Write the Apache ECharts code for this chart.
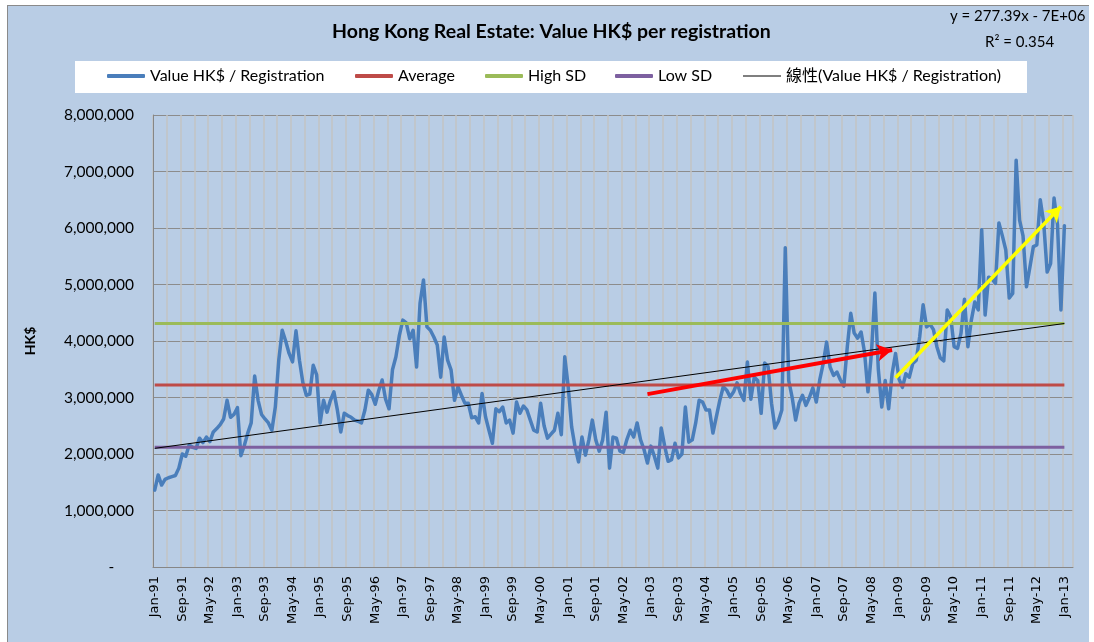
<!DOCTYPE html>
<html lang="en">
<head>
<meta charset="UTF-8">
<title>Hong Kong Real Estate</title>
<script src="https://cdn.jsdelivr.net/npm/echarts@6/dist/echarts.min.js"></script>
<style>
    body{margin:0;background:#fff;overflow:hidden;}
    #frame{position:absolute;left:7px;top:5px;width:1081px;height:637px;background:#b9cde5;border-top:1px solid #8a8a8a;border-left:1px solid #8a8a8a;}
    #main{position:absolute;left:0;top:0;width:1088px;height:642px;}
</style>
</head>
<body>
<div id="frame"></div>
<div id="main"></div>
<script type="text/javascript">
    // month labels Jan-91 .. Mar-13 (last two months have no data)
    var monthNames = ['Jan','Feb','Mar','Apr','May','Jun','Jul','Aug','Sep','Oct','Nov','Dec'];
    var categories = [];
    for (var y = 1991; y <= 2013; y++) {
        for (var m = 0; m < 12; m++) {
            if (y === 2013 && m > 2) break;
            categories.push(monthNames[m] + '-' + String(y).slice(2));
        }
    }

    // value HK$ per registration, in HK$ millions, one row per year
    var valuePerReg = [
        1.36,1.63,1.45,1.55,1.58,1.60,1.62,1.75,2.00,1.96,2.16,2.12,
        2.10,2.28,2.20,2.30,2.22,2.39,2.45,2.52,2.62,2.95,2.65,2.70,
        2.82,1.97,2.15,2.37,2.55,3.38,2.95,2.70,2.62,2.55,2.42,2.83,
        3.66,4.19,4.00,3.78,3.63,4.18,3.66,3.26,3.04,3.06,3.57,3.40,
        2.55,2.95,2.74,2.95,3.10,2.78,2.39,2.72,2.68,2.65,2.60,2.58,
        2.55,2.78,3.13,3.05,2.88,3.12,3.31,2.97,2.80,3.49,3.72,4.10,
        4.37,4.32,4.04,4.19,3.54,4.67,5.08,4.25,4.19,4.07,3.93,3.36,
        4.07,3.66,3.49,2.95,3.19,3.04,2.90,2.90,2.64,2.66,2.55,3.07,
        2.66,2.42,2.19,2.80,2.75,2.83,2.55,2.60,2.37,2.92,2.72,2.85,
        2.78,2.60,2.42,2.39,2.90,2.50,2.28,2.35,2.42,2.72,2.34,3.72,
        3.19,2.48,2.12,1.86,2.30,1.98,2.25,2.60,2.25,2.05,2.25,2.74,
        1.75,2.30,2.28,2.05,2.03,2.25,2.42,2.30,2.55,2.25,2.08,1.84,
        2.14,1.96,1.75,2.46,2.14,1.87,1.90,2.19,1.93,2.00,2.83,2.21,
        2.25,2.55,2.95,2.92,2.78,2.78,2.37,2.66,2.95,3.19,3.13,3.01,
        3.10,3.26,3.07,2.95,3.63,2.97,3.36,3.30,2.72,3.61,3.55,2.90,
        2.46,2.58,2.78,5.65,3.30,3.00,2.60,2.90,3.04,2.86,3.00,3.17,
        2.92,3.31,3.60,3.98,3.54,3.39,3.45,3.31,3.20,3.90,4.49,4.14,
        4.05,4.16,3.80,3.10,3.78,4.85,3.50,2.83,3.30,2.80,3.42,3.78,
        3.33,3.18,3.42,3.36,3.60,3.66,4.07,4.64,4.25,4.30,4.20,3.90,
        3.70,3.65,4.55,4.43,3.90,3.87,4.14,4.74,3.90,4.37,4.69,4.55,
        5.97,4.46,5.13,5.10,5.02,6.09,5.86,5.61,4.76,4.84,7.20,6.14,
        5.86,4.96,5.31,5.67,5.70,6.50,6.09,5.22,5.37,6.53,6.06,4.55,
        6.04
    ];
    var averageValue = 3.22;
    var highSD = 4.31;
    var lowSD = 2.12;
    var trendStart = 2.10;   // linear trend at Jan-91
    var trendEnd = 4.31;     // linear trend at Jan-13
    // hand drawn arrows: [month index, value]
    var redArrow = [[143, 3.06], [214, 3.84]];
    var yellowArrow = [[215, 3.35], [263, 6.38]];

    var baseFont = 'Lato, "Noto Sans CJK TC", sans-serif';
    var last = valuePerReg.length - 1;

    var myChart = echarts.init(document.getElementById('main'), null, {renderer: 'canvas'});

    //图例逐个摆放
    function legendAt(name, left, thin) {
        return {
            data: [name], left: left, top: 68, padding: 0,
            icon: thin ? 'rect' : 'roundRect',
            itemWidth: 38, itemHeight: thin ? 1 : 4, itemGap: 0,
            textStyle: {fontFamily: baseFont, fontSize: 16, color: '#000'}
        };
    }

    var option = {
        animation: false,
        backgroundColor: 'transparent',
        title: {
            text: 'Hong Kong Real Estate: Value HK$ per registration',
            left: 332, top: 22, padding: 0,
            textStyle: {fontFamily: baseFont, fontSize: 19.5, fontWeight: 'bold', color: '#000'}
        },
        graphic: [
            {type: 'rect', left: 75, top: 61, z: -1, shape: {width: 952, height: 32}, style: {fill: '#fff'}},
            {type: 'text', left: 950, top: 9, style: {text: 'y = 277.39x - 7E+06', font: '15px ' + baseFont, fill: '#000'}},
            {type: 'text', left: 985, top: 35, style: {text: 'R\u00b2 = 0.354', font: '15px ' + baseFont, fill: '#000'}}
        ],
        legend: [
            legendAt('Value HK$ / Registration', 107),
            legendAt('Average', 355),
            legendAt('High SD', 485),
            legendAt('Low SD', 615),
            legendAt('線性(Value HK$ / Registration)', 743, true)
        ],
        grid: {left: 153, top: 115, right: 15, bottom: 75, containLabel: false},
        xAxis: {
            type: 'category',
            data: categories,
            boundaryGap: true,
            axisLine: {lineStyle: {color: '#868686'}},
            axisTick: {show: false},
            axisLabel: {
                interval: 7, rotate: 90, margin: 9,
                fontFamily: '"DejaVu Sans", sans-serif', fontSize: 13, color: '#000'
            },
            splitLine: {show: true, interval: 3, lineStyle: {color: '#c3c3c3', width: 1.5}}
        },
        yAxis: {
            type: 'value',
            min: 0, max: 8, interval: 1,
            name: 'HK$',
            nameLocation: 'middle',
            nameGap: 116,
            nameTextStyle: {fontFamily: baseFont, fontSize: 14, fontWeight: 'bold', color: '#000'},
            axisLine: {show: true, lineStyle: {color: '#868686'}},
            axisTick: {show: false},
            axisLabel: {
                margin: 19, fontFamily: baseFont, fontSize: 15.5, color: '#000',
                formatter: function (v) {
                    return v === 0 ? '-     ' : (v * 1000000).toLocaleString('en-US');
                }
            },
            splitLine: {lineStyle: {color: '#8c8c8c', width: 1}}
        },
        series: [
            {
                name: 'Value HK$ / Registration',
                type: 'line',
                data: valuePerReg,
                symbol: 'none',
                lineStyle: {color: '#4a7ebb', width: 3.5, cap: 'round', join: 'round'},
                itemStyle: {color: '#4a7ebb'},
                markLine: {
                    silent: true,
                    symbol: ['none', 'arrow'],
                    symbolSize: [13, 15],
                    label: {show: false},
                    z: 10,
                    data: [
                        [{coord: redArrow[0], lineStyle: {color: '#ff0000', width: 4, type: 'solid'}},
                         {coord: redArrow[1]}],
                        [{coord: yellowArrow[0], lineStyle: {color: '#ffff00', width: 3.5, type: 'solid'}},
                         {coord: yellowArrow[1]}]
                    ]
                }
            },
            {
                name: 'Average',
                type: 'line',
                data: valuePerReg.map(function () { return averageValue; }),
                symbol: 'none',
                lineStyle: {color: '#be4b48', width: 3},
                itemStyle: {color: '#be4b48'}
            },
            {
                name: 'High SD',
                type: 'line',
                data: valuePerReg.map(function () { return highSD; }),
                symbol: 'none',
                lineStyle: {color: '#9bbb59', width: 3},
                itemStyle: {color: '#9bbb59'}
            },
            {
                name: 'Low SD',
                type: 'line',
                data: valuePerReg.map(function () { return lowSD; }),
                symbol: 'none',
                lineStyle: {color: '#7d60a0', width: 3},
                itemStyle: {color: '#7d60a0'}
            },
            {
                name: '線性(Value HK$ / Registration)',
                type: 'line',
                data: valuePerReg.map(function (v, i) {
                    return i === 0 ? trendStart : (i === last ? trendEnd : null);
                }),
                connectNulls: true,
                symbol: 'none',
                lineStyle: {color: '#000', width: 1},
                itemStyle: {color: '#000'}
            }
        ]
    };
    myChart.setOption(option);
</script>
</body>
</html>
